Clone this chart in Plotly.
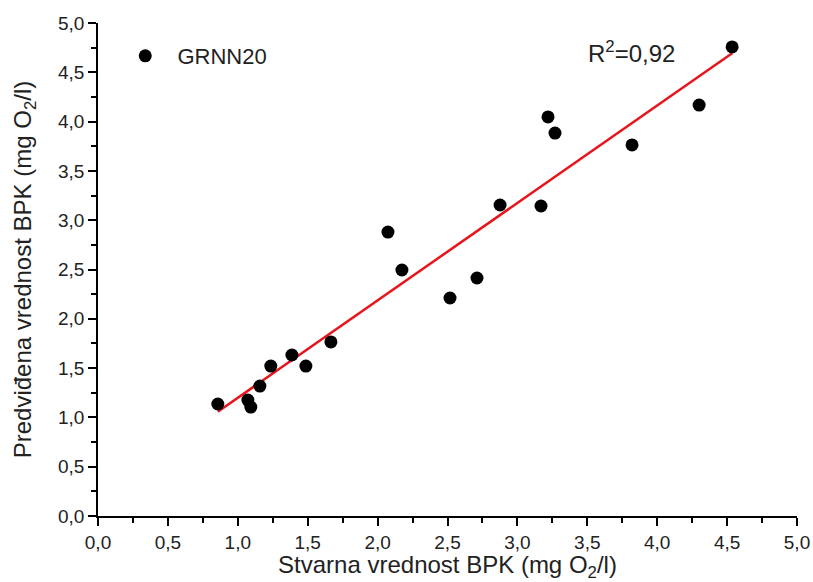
import numpy as np
import plotly.graph_objects as go

# Data
actual_bpk = [0.857, 1.072, 1.093, 1.158, 1.236, 1.387, 1.487, 1.666, 2.074, 2.174,
              2.518, 2.711, 2.876, 3.169, 3.219, 3.269, 3.820, 4.300, 4.536]
predicted_bpk = [1.136, 1.176, 1.105, 1.318, 1.521, 1.633, 1.521, 1.765, 2.880, 2.495,
                 2.211, 2.414, 3.154, 3.144, 4.047, 3.884, 3.763, 4.168, 4.757]
series_name = "\u00a0\u00a0GRNN20"
r2_label = "R<sup>2</sup>=0,92"
tick_vals = [0.0, 0.5, 1.0, 1.5, 2.0, 2.5, 3.0, 3.5, 4.0, 4.5, 5.0]

# Linear fit
slope, intercept = np.polyfit(actual_bpk, predicted_bpk, 1)
fit_x = np.array([min(actual_bpk), max(actual_bpk)])
fit_y = slope * fit_x + intercept

font_family = "Liberation Sans, Arial, sans-serif"
txt = "#222"

fig = go.Figure()
fig.add_trace(go.Scatter(
    x=fit_x, y=fit_y, mode="lines",
    line=dict(color="#e8141c", width=2.5),
    showlegend=False, hoverinfo="skip"))
fig.add_trace(go.Scatter(
    x=actual_bpk, y=predicted_bpk, mode="markers", name=series_name,
    marker=dict(color="black", size=13)))

def axis(title, standoff):
    return dict(
        range=[0, 5], tickvals=tick_vals, tickformat=".1f",
        showgrid=False, zeroline=False, showline=True, linecolor="black", linewidth=1.5,
        ticks="outside", ticklen=8, tickwidth=1.5, tickcolor="black",
        minor=dict(ticks="outside", ticklen=5, tickwidth=1.5, tickcolor="black",
                   dtick=0.25, showgrid=False),
        tickfont=dict(size=19, color=txt, family=font_family),
        automargin=False,
        title=dict(text=title, font=dict(size=24, family=font_family, color=txt),
                   standoff=standoff),
    )

fig.update_layout(
    width=813, height=582,
    margin=dict(l=98, r=16, t=23, b=66),
    plot_bgcolor="white", paper_bgcolor="white",
    separators=", ",
    font=dict(family=font_family, color=txt),
    xaxis=axis("Stvarna vrednost BPK (mg O<sub>2</sub>/l)", 14),
    yaxis=axis("Predviđena vrednost BPK (mg O<sub>2</sub>/l)", 20),
    legend=dict(x=0.039, y=0.933, xanchor="left", yanchor="middle",
                bgcolor="rgba(0,0,0,0)", font=dict(size=22, family=font_family, color=txt)),
    annotations=[dict(x=3.49, y=4.71, xref="x", yref="y", text=r2_label, showarrow=False,
                      xanchor="left", yanchor="middle",
                      font=dict(size=24, family=font_family, color=txt))],
)

fig.write_html("out.html")
